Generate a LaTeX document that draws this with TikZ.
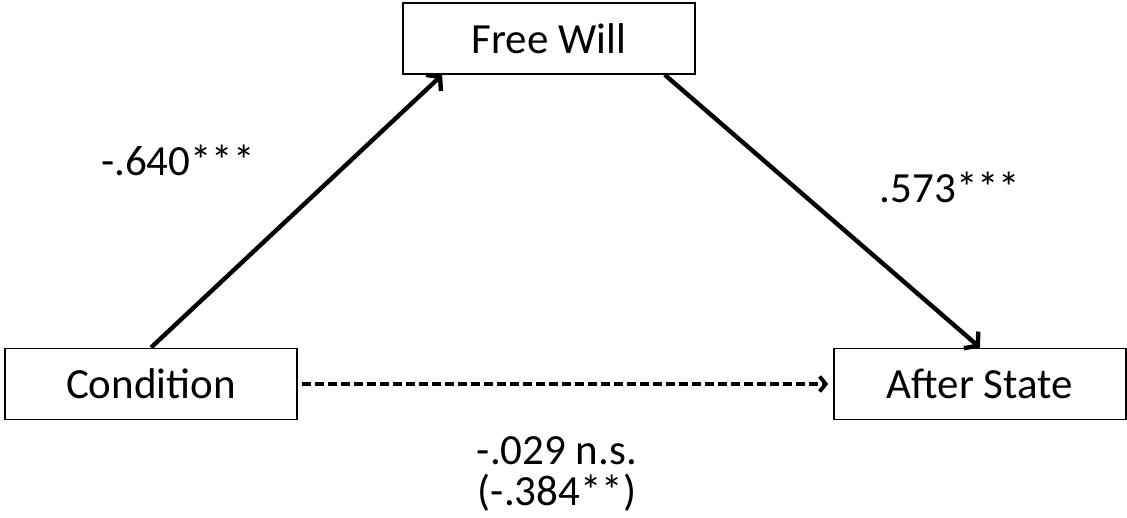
\documentclass[tikz,border=0pt]{standalone}
\usepackage{fontspec}
\setmainfont{Carlito}
\usetikzlibrary{positioning}
\usetikzlibrary{arrows.meta}

\begin{document}
\begin{tikzpicture}[x=1pt, y=1pt, >={Straight Barb[length=9pt,width=22pt]}]
\tikzstyle{box}=[draw=black, line width=1.8pt, fill=white, minimum width=292pt, minimum height=71pt, inner sep=0pt, font=\fontsize{43}{50}\selectfont]
\tikzstyle{coef}=[font=\fontsize{43}{41}\selectfont, inner sep=0pt, align=center]
\tikzstyle{link}=[->, line width=4.4pt]
\useasboundingbox (0,0) rectangle (1127,518);
\node[box]    (fw)  at (549,479.5)  {Free Will};
\node[box]    (cond) at (151,134)   {Condition};
\node[box]    (as)  at (980,134)    {After State};

\node[coef]   (a)  at (178,358)   {-.640***};
\node[coef]   (b)  at (950,331)   {.573***};
\node[coef]   (c)  at (557,44)    {-.029 n.s.\\(-.384**)};

\draw[link] (cond.north) -- ([xshift=40pt]fw.south west);
\draw[link] ([xshift=-31pt]fw.south east) -- (as.north);
\draw[link, >={Straight Barb[length=6pt,width=15pt]}, dash pattern=on 9pt off 4pt, line width=3.8pt, shorten <=4pt, shorten >=5pt] (cond.east) -- (as.west);
\end{tikzpicture}
\end{document}
